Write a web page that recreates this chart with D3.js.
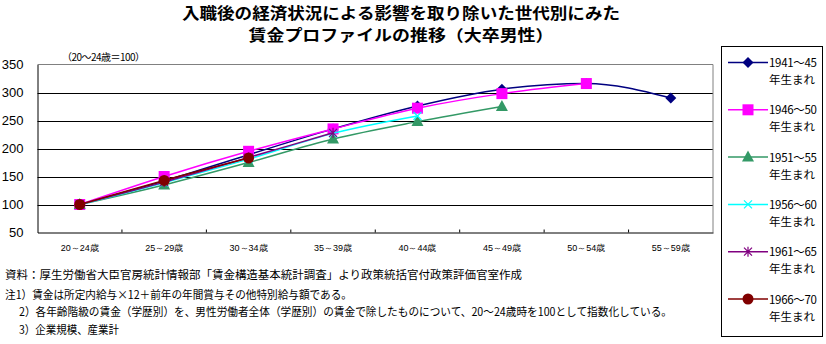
<!DOCTYPE html>
<html><head><meta charset="utf-8">
<script src="https://cdn.jsdelivr.net/npm/d3@7"></script>
<style>
body{margin:0;background:#fff;}
svg{display:block;font-family:"Noto Sans CJK JP","Liberation Sans",sans-serif;}
</style></head>
<body>
<svg id="c" width="826" height="344"></svg>
<script>
const categories = ["20～24歳","25～29歳","30～34歳","35～39歳","40～44歳","45～49歳","50～54歳","55～59歳"];
const seriesNames = ["1941～45","1946～50","1951～55","1956～60","1961～65","1966～70"];
const s1941 = [100,142,189,235,276,306,316,290];
const s1946 = [100,150,195,235,272,298,316];
const s1951 = [100,135,175,217,248,275];
const s1956 = [100,139,181,227,258];
const s1961 = [100,140,184,228];
const s1966 = [100,143,183];
const yTicks = [50,100,150,200,250,300,350];
const titleLines = ["入職後の経済状況による影響を取り除いた世代別にみた","賃金プロファイルの推移（大卒男性）"];
const yUnit = "（20～24歳＝100）";
const notes = [
  "資料：厚生労働省大臣官房統計情報部「賃金構造基本統計調査」より政策統括官付政策評価官室作成",
  "注1）賃金は所定内給与×12＋前年の年間賞与その他特別給与額である。",
  "2）各年齢階級の賃金（学歴別）を、男性労働者全体（学歴別）の賃金で除したものについて、20～24歳時を100として指数化している。",
  "3）企業規模、産業計"
];

const seriesData = [s1941,s1946,s1951,s1956,s1961,s1966];
const colors = ["#000080","#FF00FF","#339966","#00FFFF","#800080","#800000"];
const markers = ["diamond","square","triangle","x","star","circle"];

const svg = d3.select("#c");
const L=37.5, R=713, T=64.5, B=232.5;
const x = d3.scaleBand().domain(categories).range([L,R]).padding(0);
const y = d3.scaleLinear().domain([50,350]).range([B,T]);

// title
const titleW = [438, 305];
svg.selectAll("text.title").data(titleLines).join("text").attr("class","title")
  .attr("x",401).attr("y",(d,i)=>19+i*22).attr("text-anchor","middle")
  .attr("font-size",15.5).attr("font-weight","bold").attr("fill","#000")
  .attr("textLength",(d,i)=>titleW[i]).attr("lengthAdjust","spacingAndGlyphs").text(d=>d);

svg.append("text").attr("x",62).attr("y",61).attr("font-size",10).attr("textLength",83).text(yUnit);

// gridlines
svg.append("g").selectAll("line").data(yTicks.filter(v=>v>50&&v<350)).join("line")
  .attr("x1",L).attr("x2",R).attr("y1",d=>Math.round(y(d))+0.5).attr("y2",d=>Math.round(y(d))+0.5)
  .attr("stroke","#000").attr("stroke-width",1);
svg.append("line").attr("x1",L).attr("x2",R).attr("y1",T).attr("y2",T).attr("stroke","#808080");
svg.append("line").attr("x1",R).attr("x2",R).attr("y1",T).attr("y2",B).attr("stroke","#808080");

// y axis
const yAxis = svg.append("g").attr("transform",`translate(${L},0)`)
  .call(d3.axisLeft(y).tickValues(yTicks).tickSize(0).tickPadding(14));
yAxis.select(".domain").attr("stroke","#000");
yAxis.selectAll("text").attr("font-family","Liberation Sans, Arial, sans-serif").attr("font-size",13).attr("fill","#000");

// x axis
const xAxis = svg.append("g").attr("transform",`translate(0,${B})`)
  .call(d3.axisBottom(x).tickSize(0).tickPadding(10));
xAxis.select(".domain").attr("stroke","#000");
xAxis.selectAll("text").attr("font-size",9).attr("fill","#000").attr("dy","0.95em");
svg.append("g").selectAll("line").data(categories.slice(1)).join("line")
  .attr("x1",d=>x(d)).attr("x2",d=>x(d)).attr("y1",B).attr("y2",B-3).attr("stroke","#000");

function drawMarker(g, type, color, cx, cy){
  if(type==="diamond"){
    g.append("path").attr("d",`M${cx},${cy-5.5}L${cx+5.5},${cy}L${cx},${cy+5.5}L${cx-5.5},${cy}Z`).attr("fill",color);
  } else if(type==="square"){
    g.append("rect").attr("x",cx-5.5).attr("y",cy-5.5).attr("width",11).attr("height",11).attr("fill",color);
  } else if(type==="triangle"){
    g.append("path").attr("d",`M${cx},${cy-6.5}L${cx+6},${cy+4.5}L${cx-6},${cy+4.5}Z`).attr("fill",color);
  } else if(type==="x"){
    g.append("path").attr("d",`M${cx-4},${cy-4}L${cx+4},${cy+4}M${cx-4},${cy+4}L${cx+4},${cy-4}`).attr("stroke",color).attr("stroke-width",1.2);
  } else if(type==="star"){
    g.append("path").attr("d",`M${cx-4},${cy-4}L${cx+4},${cy+4}M${cx-4},${cy+4}L${cx+4},${cy-4}M${cx},${cy-5}L${cx},${cy+5}`).attr("stroke",color).attr("stroke-width",1.2);
  } else if(type==="circle"){
    g.append("circle").attr("cx",cx).attr("cy",cy).attr("r",5.5).attr("fill",color);
  }
}

const line = d3.line().x((d,i)=>x(categories[i])+x.bandwidth()/2).y(d=>y(d)).curve(d3.curveMonotoneX);
seriesData.forEach((data,k)=>{
  const g = svg.append("g");
  g.append("path").datum(data).attr("d",line).attr("fill","none").attr("stroke",colors[k]).attr("stroke-width",1.5);
  data.forEach((v,i)=>drawMarker(g, markers[k], colors[k], x(categories[i])+x.bandwidth()/2, y(v)));
});

// legend
const lg = svg.append("g");
lg.append("rect").attr("x",721.5).attr("y",46.5).attr("width",101).attr("height",290).attr("fill","#fff").attr("stroke","#000");
seriesNames.forEach((n,k)=>{
  const cy = 62.5 + k*47.3;
  const g = lg.append("g");
  g.append("line").attr("x1",728).attr("x2",768).attr("y1",cy).attr("y2",cy).attr("stroke",colors[k]).attr("stroke-width",1.5);
  drawMarker(g, markers[k], colors[k], 748, cy);
  g.append("text").attr("x",769).attr("y",cy+4.5).attr("font-size",11.5).attr("textLength",48).text(n);
  g.append("text").attr("x",769).attr("y",cy+21.5).attr("font-size",11.5).text("年生まれ");
});

// notes
const noteX = [5,5,19,19], noteY=[279,299,316,334], noteW=[517,347,653,100];
notes.forEach((t,i)=>{
  svg.append("text").attr("x",noteX[i]).attr("y",noteY[i]).attr("font-size",11.5)
    .attr("textLength",noteW[i]).attr("lengthAdjust","spacingAndGlyphs").text(t);
});
</script>
</body></html>
